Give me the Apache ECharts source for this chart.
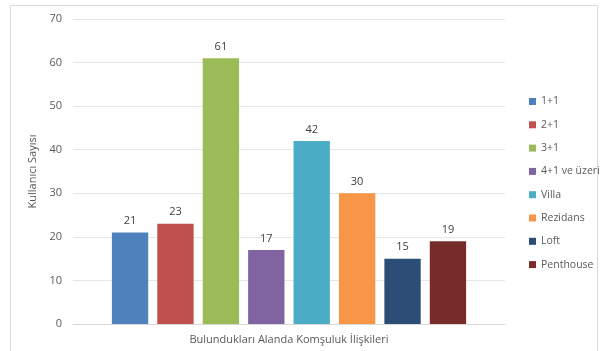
<!DOCTYPE html>
<html>
    <head>
        <meta charset="utf-8">
        <script src="https://cdn.jsdelivr.net/npm/echarts@6/dist/echarts.min.js"></script>
        <style>
            html, body { margin: 0; padding: 0; background: #fff; }
        </style>
    </head>
    <body>
        <div id="main" style="width: 600px;height:351px;"></div>
        <script type="text/javascript">
            // veriler
            var categories = ['Bulundukları Alanda Komşuluk İlişkileri'];
            var seriesNames = ['1+1', '2+1', '3+1', '4+1 ve üzeri', 'Villa', 'Rezidans', 'Loft', 'Penthouse'];
            var seriesValues = [21, 23, 61, 17, 42, 30, 15, 19];
            var colors = ['#4F81BD', '#C0504D', '#9BBB59', '#8064A2', '#4BACC6', '#F79646', '#2C4D75', '#772C2A'];

            var myChart = echarts.init(document.getElementById('main'));

            var series = seriesNames.map(function (name, i) {
                return {
                    name: name,
                    type: 'bar',
                    data: [seriesValues[i]],
                    barGap: '25%',
                    barCategoryGap: '18%',
                    itemStyle: { color: colors[i] },
                    label: {
                        show: true,
                        position: 'top',
                        distance: 6,
                        color: '#404040',
                        fontSize: 11,
                        fontFamily: 'Open Sans'
                    }
                };
            });

            var option = {
                animation: false,
                color: colors,
                textStyle: { fontFamily: 'Open Sans' },
                graphic: [{
                    type: 'rect',
                    shape: { x: 10.5, y: 5.5, width: 587, height: 360 },
                    style: { fill: 'none', stroke: '#d9d9d9', lineWidth: 1 },
                    silent: true
                }],
                grid: { left: 73, right: 95, top: 19, bottom: 27 },
                legend: {
                    orient: 'vertical',
                    left: 524,
                    top: 91,
                    itemWidth: 7,
                    itemHeight: 7,
                    itemGap: 12.3,
                    icon: 'rect',
                    textStyle: { color: '#595959', fontSize: 10.5, fontFamily: 'Open Sans' },
                    data: seriesNames
                },
                xAxis: {
                    type: 'category',
                    data: categories,
                    axisTick: { show: false },
                    axisLine: { lineStyle: { color: '#d9d9d9' } },
                    axisLabel: { color: '#595959', fontSize: 11, margin: 10 }
                },
                yAxis: {
                    type: 'value',
                    min: 0,
                    max: 70,
                    interval: 10,
                    name: 'Kullanıcı Sayısı',
                    nameLocation: 'middle',
                    nameGap: 27,
                    nameTextStyle: { color: '#595959', fontSize: 11 },
                    axisLine: { show: false },
                    axisTick: { show: false },
                    axisLabel: { color: '#595959', fontSize: 11, margin: 11 },
                    splitLine: { lineStyle: { color: '#e6e6e6' } }
                },
                series: series
            };

            myChart.setOption(option);
        </script>
    </body>
</html>
